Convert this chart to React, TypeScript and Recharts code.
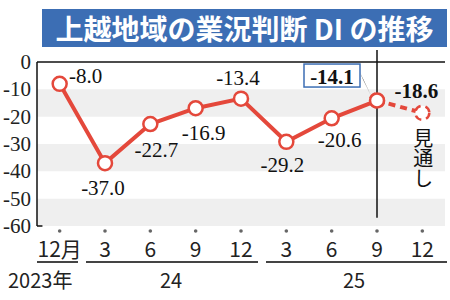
import { ComposedChart, Line, XAxis, YAxis, ReferenceArea, ReferenceLine, LabelList } from 'recharts'

const MONTHS = ['12月', '3', '6', '9', '12', '3', '6', '9', '12']
const ACTUAL = [-8.0, -37.0, -22.7, -16.9, -13.4, -29.2, -20.6, -14.1, null]
const OUTLOOK = [null, null, null, null, null, null, null, -14.1, -18.6]
const Y_TICKS = [0, -10, -20, -30, -40, -50, -60]
const BANDS = [[-10, -20], [-30, -40], [-50, -60]]

const rows = MONTHS.map((m, i) => ({ i, m, actual: ACTUAL[i], outlook: OUTLOOK[i] }))

const RED = '#e4483b'
const BLUE = '#3c6eb4'
const SERIF = '"Liberation Serif", "DejaVu Serif", serif'
const SANS = '"Noto Sans CJK JP", "Noto Sans", sans-serif'

// label offsets from each point (dx, dy)
const LABEL_OFFSET: [number, number][] = [
  [26, -8], [-2, 25], [6, 26], [8, 25], [-3, -21], [-4, 23], [8, 22], [-45, -25], [-6, -22],
]

const fmt = (v: number) => v.toFixed(1)

const XTick = (props: any) => {
  const { x, y, payload } = props
  return (
    <g>
      <circle cx={x} cy={y + 5} r={1.8} fill="#666" />
      <text x={x} y={y + 22} textAnchor="middle" dominantBaseline="central" fontFamily={SANS} fontSize={21} fill="#222">
        {MONTHS[payload.value]}
      </text>
    </g>
  )
}

const YTick = (props: any) => {
  const { x, y, payload } = props
  return (
    <text x={x} y={y} textAnchor="end" dominantBaseline="central" fontFamily={SERIF} fontSize={21} fill="#222">
      {payload.value}
    </text>
  )
}

const ActualLabel = (props: any) => {
  const { x, y, value, index } = props
  if (value == null) return null
  const [dx, dy] = LABEL_OFFSET[index]
  const cx = x + dx
  const cy = y + dy
  if (index === 7) {
    return (
      <g>
        <polygon points={`${cx + 28},${cy - 3} ${cx + 31},${cy + 4} ${x - 6},${y - 5}`} fill="#111" />
        <rect x={cx - 28} y={cy - 11.5} width={56} height={23} fill="#fff" stroke={BLUE} strokeWidth={1.5} />
        <text x={cx} y={cy + 1} textAnchor="middle" dominantBaseline="central" fontFamily={SERIF} fontSize={21} fontWeight="bold" fill="#111">
          {fmt(value)}
        </text>
      </g>
    )
  }
  return (
    <text x={cx} y={cy} textAnchor="middle" dominantBaseline="central" fontFamily={SERIF} fontSize={21} fill="#111">
      {fmt(value)}
    </text>
  )
}

const OutlookLabel = (props: any) => {
  const { x, y, value, index } = props
  if (value == null || index !== 8) return null
  const [dx, dy] = LABEL_OFFSET[index]
  return (
    <g>
      <text x={x + dx} y={y + dy} textAnchor="middle" dominantBaseline="central" fontFamily={SERIF} fontSize={21} fontWeight="bold" fill="#111">
        {fmt(value)}
      </text>
      <text x={x + 1} y={y + 16} writingMode="vertical-rl" textAnchor="start" fontFamily={SANS} fontSize={20} fill="#111">
        見通し
      </text>
    </g>
  )
}

const dot = { r: 7, fill: '#fff', stroke: RED, strokeWidth: 2.5 }

export default function App() {
  return (
    <div style={{ position: 'absolute', left: 0, top: 0, width: 450, height: 300, background: '#fff', overflow: 'hidden' }}>
      <div
        style={{
          position: 'absolute', left: 42, top: 9, width: 405, height: 38, background: BLUE, color: '#fff',
          fontFamily: SANS, fontSize: 28, fontWeight: 'bold', lineHeight: '38px', textAlign: 'center', whiteSpace: 'nowrap',
        }}
      >
        上越地域の業況判断 DI の推移
      </div>
      <ComposedChart width={450} height={300} data={rows} margin={{ top: 62, right: 5, bottom: 0, left: 0 }}>
        {BANDS.map(([a, b], k) => (
          <ReferenceArea key={k} y1={a} y2={b} fill="#efefef" fillOpacity={1} stroke="none" />
        ))}
        <XAxis
          dataKey="i" type="number" domain={[-0.5, 8.5]} ticks={MONTHS.map((_, i) => i)}
          axisLine={false} tickLine={false} tickSize={0} tickMargin={0} tick={<XTick />} height={74} interval={0}
        />
        <YAxis
          type="number" domain={[-60, 0]} ticks={Y_TICKS} width={37} axisLine={{ stroke: '#111', strokeWidth: 1.5 }}
          tickLine={false} tickSize={0} tickMargin={6} tick={<YTick />} interval={0}
        />
        <ReferenceLine y={0} stroke="#111" strokeWidth={1.5} />
        <ReferenceLine segment={[{ x: -0.5, y: -60 }, { x: -0.38, y: -60 }]} stroke="#111" strokeWidth={1.5} />
        <ReferenceLine segment={[{ x: 7, y: 4.4 }, { x: 7, y: -57 }]} ifOverflow="visible" stroke="#111" strokeWidth={1.5} />
        <Line dataKey="outlook" stroke={RED} strokeWidth={4} strokeDasharray="7 5" dot={dot} isAnimationActive={false} connectNulls={false}>
          <LabelList dataKey="outlook" content={<OutlookLabel />} />
        </Line>
        <Line dataKey="actual" stroke={RED} strokeWidth={4} dot={dot} isAnimationActive={false} connectNulls={false}>
          <LabelList dataKey="actual" content={<ActualLabel />} />
        </Line>
      </ComposedChart>
      <div style={{ position: 'absolute', left: 37, top: 261, width: 41, height: 2, background: '#444' }} />
      <div style={{ position: 'absolute', left: 86, top: 261, width: 172, height: 2, background: '#444' }} />
      <div style={{ position: 'absolute', left: 266, top: 261, width: 181, height: 2, background: '#444' }} />
      <div style={{ position: 'absolute', left: 8, top: 266, fontFamily: SANS, fontSize: 20, lineHeight: '28px', color: '#222' }}>2023年</div>
      <div style={{ position: 'absolute', left: 160, top: 266, fontFamily: SANS, fontSize: 20, lineHeight: '28px', color: '#222' }}>24</div>
      <div style={{ position: 'absolute', left: 343, top: 266, fontFamily: SANS, fontSize: 20, lineHeight: '28px', color: '#222' }}>25</div>
    </div>
  )
}
